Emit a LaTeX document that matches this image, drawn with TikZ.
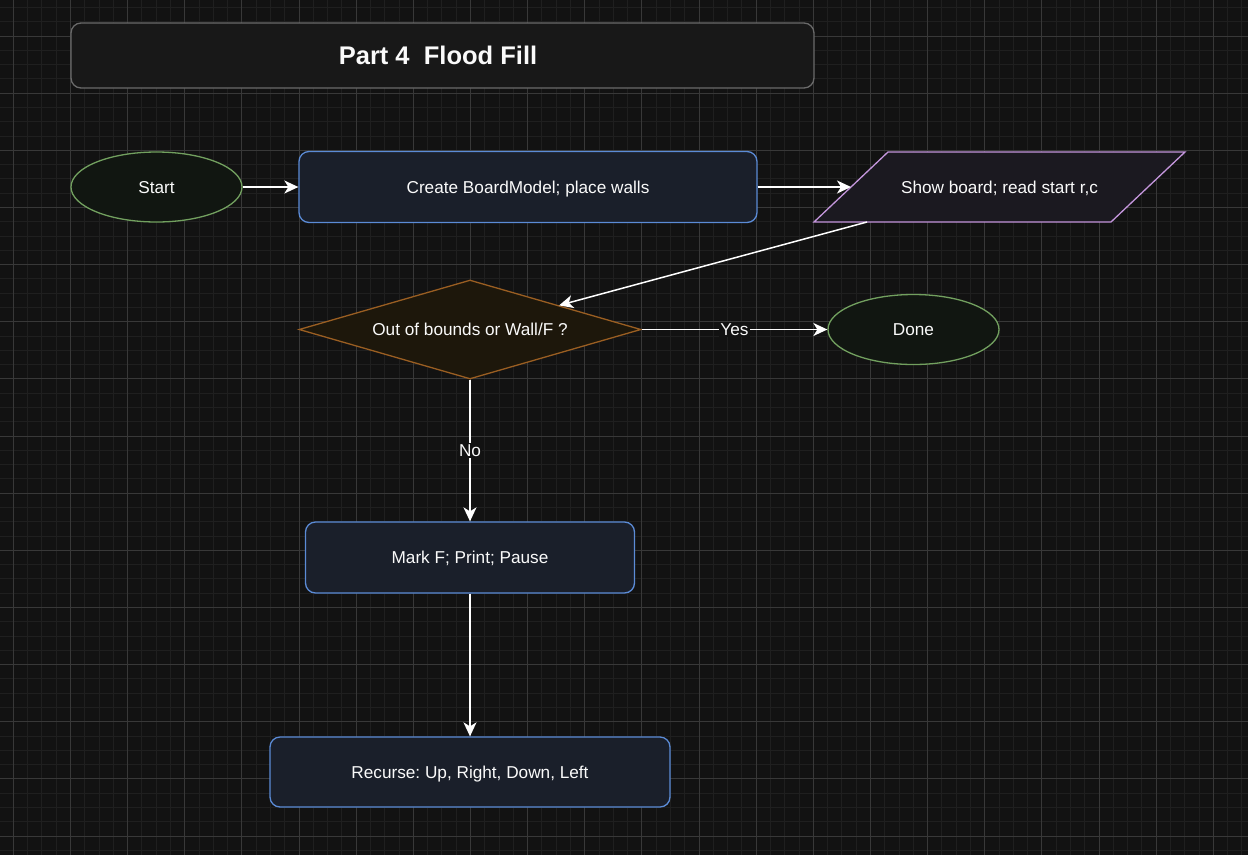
\documentclass[tikz,border=0pt]{standalone}
\usepackage{fontspec}
\setmainfont{Liberation Sans}
\usetikzlibrary{shapes.geometric,arrows.meta}
\definecolor{bgc}{HTML}{121212}
\definecolor{gmin}{HTML}{1F1F1F}
\definecolor{gmaj}{HTML}{383838}
\definecolor{titfill}{HTML}{181818}
\definecolor{titdraw}{HTML}{6A6A6A}
\definecolor{termfill}{HTML}{111611}
\definecolor{termdraw}{HTML}{72A05F}
\definecolor{procfill}{HTML}{1A1F2A}
\definecolor{procdraw}{HTML}{5B8BD6}
\definecolor{iofill}{HTML}{1B1920}
\definecolor{iodraw}{HTML}{C496DC}
\definecolor{decfill}{HTML}{1D170B}
\definecolor{decdraw}{HTML}{9A5E22}
\definecolor{txt}{HTML}{FAFAFA}
\tikzset{
  gminor/.style={draw=gmin,line width=0.9pt},
  gmajor/.style={draw=gmaj,line width=1pt},
  base/.style={line width=1.3pt,text=txt,font=\fontsize{17.2}{20}\selectfont,inner sep=0pt,text height=12.2pt,text depth=0pt},
  titlebox/.style={line width=1.3pt,draw=titdraw,fill=titfill,rounded corners=10pt,minimum width=743pt,minimum height=65pt,inner sep=0pt},
  titletext/.style={base,font=\bfseries\fontsize{25.5}{30}\selectfont,text height=18pt},
  term/.style={base,ellipse,draw=termdraw,fill=termfill,minimum width=171pt,minimum height=70pt},
  proc/.style={base,rectangle,rounded corners=10pt,draw=procdraw,fill=procfill,minimum height=71pt},
  iobox/.style={line width=1.3pt,draw=iodraw,fill=iofill},
  dec/.style={base,diamond,aspect=3.45,draw=decdraw,fill=decfill,minimum width=342pt,minimum height=99pt},
  conn/.style={draw=white,line width=1.5pt,-{Stealth[length=14pt,width=13pt,inset=4pt]}},
  elabel/.style={fill=bgc,text=txt,font=\fontsize{17.2}{20}\selectfont,inner sep=1pt,text height=12.2pt,text depth=0pt}
}
\begin{document}
\frenchspacing
\begin{tikzpicture}[x=1pt,y=-1pt]
\fill[bgc] (0,0) rectangle (1248,855);
\useasboundingbox (0,0) rectangle (1248,855);
% grid
\foreach \k in {-1,...,87} \draw[gminor] ({13.3+\k*14.2857},0) -- ++(0,855);
\foreach \k in {-3,...,57} \draw[gminor] (0,{36+\k*14.2857}) -- ++(1248,0);
\foreach \k in {0,...,21} \draw[gmajor] ({13.3+\k*57.143},0) -- ++(0,855);
\foreach \k in {0,...,14} \draw[gmajor] (0,{36+\k*57.143}) -- ++(1248,0);
% title
\node[titlebox] (title) at (442.5,55.5) {};
\node[titletext] (titletxt) at (438,55.5) {Part 4\ \ Flood Fill};
% nodes
\node[term] (start) at (156.5,187) {Start};
\node[proc,minimum width=458pt] (create) at (528,187) {Create BoardModel; place walls};
\coordinate (pBL) at (814,222);
\coordinate (pTL) at (888,152);
\coordinate (pTR) at (1185,152);
\coordinate (pBR) at (1111,222);
\path[iobox] (pBL) -- (pTL) -- (pTR) -- (pBR) -- cycle;
\node[base] (show) at (999.5,187) {Show board; read start r,c};
\coordinate (showin) at (851,187);
\coordinate (showout) at (867,222);
\node[dec] (dec) at (470,329.5) {Out of bounds or Wall/F ?};
\node[term] (done) at (913.5,329.5) {Done};
\node[proc,minimum width=329pt] (mark) at (470,557.5) {Mark F; Print; Pause};
\node[proc,minimum width=400pt,minimum height=70pt] (rec) at (470,772) {Recurse: Up, Right, Down, Left};
% connectors
\draw[conn] (start) -- (create);
\draw[conn] (create.east) -- (showin);
\draw[conn] (showout) -- (dec);
\draw[conn] (dec.east) -- node[elabel] {Yes} (done.west);
\draw[conn] (dec.south) -- node[elabel] {No} (mark.north);
\draw[conn] (mark.south) -- (rec.north);
\end{tikzpicture}
\end{document}
